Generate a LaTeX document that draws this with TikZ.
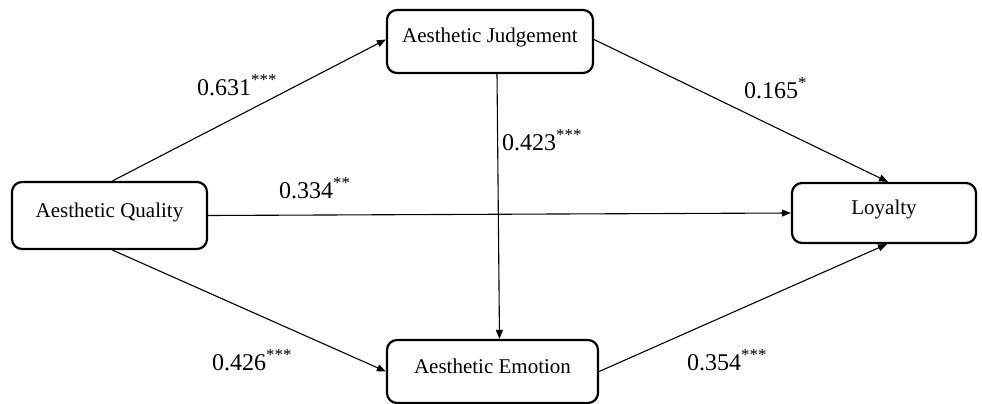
\documentclass[tikz,border=0pt]{standalone}
\usepackage{fontspec}
\setmainfont{Liberation Serif}
\usetikzlibrary{arrows.meta}
\begin{document}
\begin{tikzpicture}[x=1pt,y=-1pt,
  box/.style={draw,line width=2.2pt,rounded corners=10pt,inner sep=0pt,
    font=\fontsize{21}{21}\selectfont,text height=15pt,text depth=12pt},
  conn/.style={line width=1.1pt,-{Triangle[length=9pt,width=7pt]}},
  coef/.style={anchor=base west,inner sep=0pt,font=\fontsize{24}{24}\selectfont}]
\useasboundingbox (0,0) rectangle (982,404);
\node[box,minimum width=195pt,minimum height=67pt] (aq) at (109.5,215.5) {Aesthetic Quality};
\node[box,minimum width=206pt,minimum height=63pt] (aj) at (490,41.5) {Aesthetic Judgement};
\node[box,minimum width=184pt,minimum height=60pt] (ly) at (884,213) {Loyalty};
\node[box,minimum width=211pt,minimum height=63pt] (ae) at (492.5,371.5) {Aesthetic Emotion};
\coordinate (ajs) at ([xshift=7pt]aj.south);
\coordinate (aen) at ([xshift=7pt]ae.north);
\draw[conn] ([xshift=3pt]aq.north) -- ([yshift=2pt]aj.west);
\draw[conn] (aq.east) -- (ly.west);
\draw[conn] ([xshift=3pt]aq.south) -- (ae.west);
\draw[conn] ([yshift=2pt]aj.east) -- ([xshift=4pt]ly.north);
\draw[conn] (ajs) -- (aen);
\draw[conn] (ae.east) -- ([xshift=3pt]ly.south);
\node[coef] (c1) at (197,95) {0.631\textsuperscript{***}};
\node[coef] (c2) at (744,98) {0.165\textsuperscript{*}};
\node[coef] (c3) at (502,150) {0.423\textsuperscript{***}};
\node[coef] (c4) at (279,198) {0.334\textsuperscript{**}};
\node[coef] (c5) at (212,370) {0.426\textsuperscript{***}};
\node[coef] (c6) at (687,370) {0.354\textsuperscript{***}};
\end{tikzpicture}
\end{document}
